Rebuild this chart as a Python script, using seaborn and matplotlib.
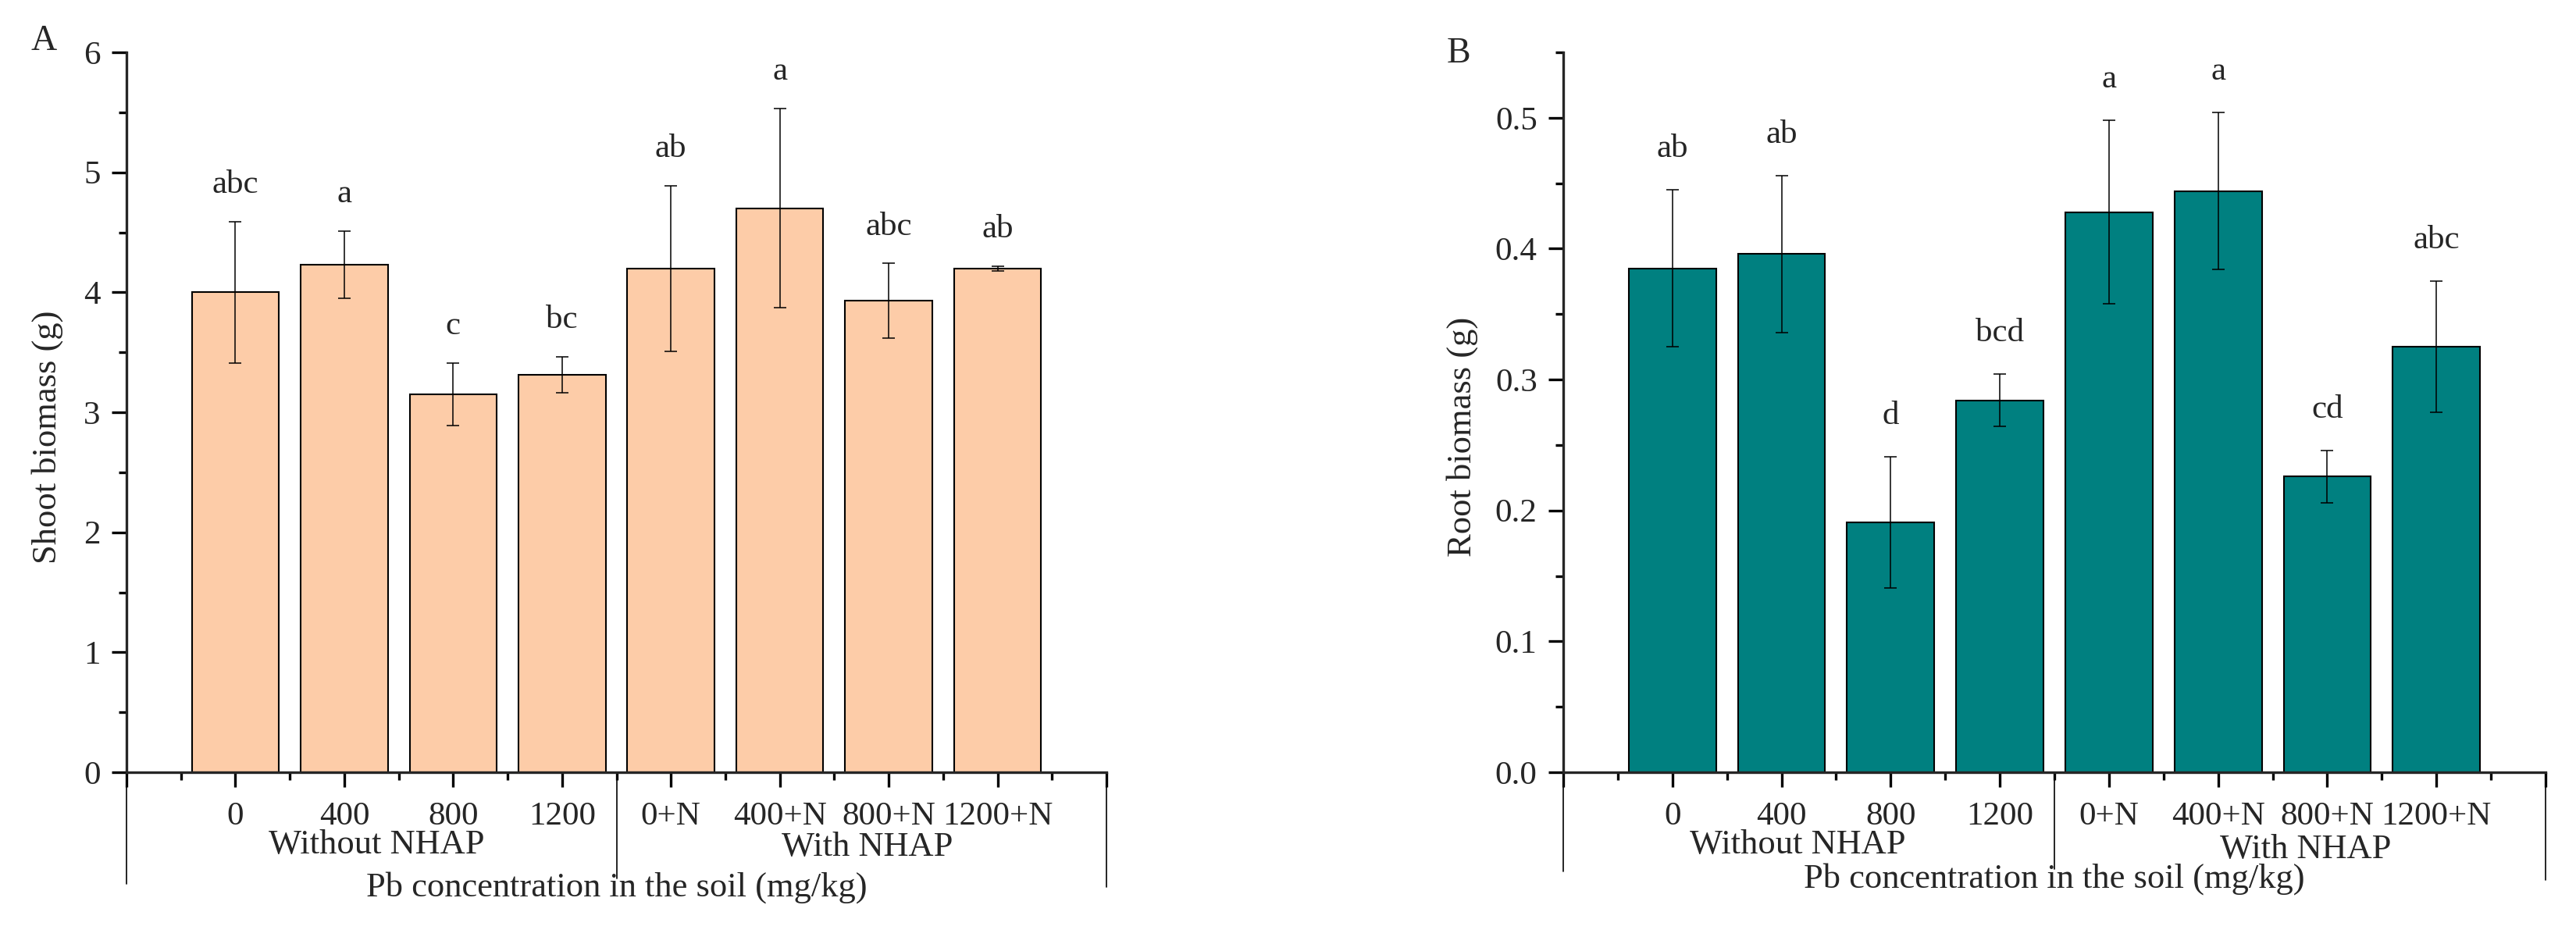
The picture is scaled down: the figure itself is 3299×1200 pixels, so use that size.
import numpy as np
import pandas as pd
import matplotlib
matplotlib.use("Agg")
import matplotlib.pyplot as plt
import seaborn as sns
from matplotlib.ticker import MultipleLocator, FormatStrFormatter

# =========================
# DATA
# =========================

treatments = ["0", "400", "800", "1200", "0+N", "400+N", "800+N", "1200+N"]
groups = ["Without NHAP", "With NHAP"]

shoot_mean = [4.00, 4.23, 3.15, 3.31, 4.20, 4.70, 3.93, 4.20]
shoot_err = [0.59, 0.28, 0.26, 0.15, 0.69, 0.83, 0.31, 0.02]
shoot_letters = ["abc", "a", "c", "bc", "ab", "a", "abc", "ab"]

root_mean = [0.385, 0.396, 0.191, 0.284, 0.428, 0.444, 0.226, 0.325]
root_err = [0.060, 0.060, 0.050, 0.020, 0.070, 0.060, 0.020, 0.050]
root_letters = ["ab", "ab", "d", "bcd", "a", "a", "cd", "abc"]

x_title = "Pb concentration in the soil (mg/kg)"

# =========================
# STYLE
# =========================

sns.set_style("ticks")
plt.rcParams['font.family'] = ['Liberation Serif', 'DejaVu Serif']
plt.rcParams['axes.linewidth'] = 2.4

fig = plt.figure(figsize=(32.99, 12), dpi=100)

ax_a = fig.add_axes([162 / 3299, 1 - 989 / 1200, (1417 - 162) / 3299, (989 - 67) / 1200])
ax_b = fig.add_axes([2002 / 3299, 1 - 989 / 1200, (3260 - 2002) / 3299, (989 - 67) / 1200])


def draw_panel(ax, means, errs, letters, color, ylabel, ymax, major, minor, fmt,
               offset, ylabel_x, group_x, group_y, sep_y, title_y):
    df = pd.DataFrame({"treatment": treatments, "value": means})

    sns.barplot(
        data=df,
        x="treatment",
        y="value",
        order=treatments,
        color=color,
        saturation=1,
        edgecolor="black",
        linewidth=1.5,
        width=0.8,
        errorbar=None,
        ax=ax
    )

    pos = np.arange(len(treatments))
    ax.errorbar(pos, means, yerr=errs, fmt="none", ecolor="black",
                elinewidth=1.1, capsize=6, capthick=1.1, zorder=5)

    # significance letters
    for i in range(len(treatments)):
        ax.text(pos[i], means[i] + errs[i] + offset, letters[i],
                ha="center", va="baseline", fontsize=31)

    ax.set_xlim(-1, 8)
    ax.set_ylim(0, ymax)

    sns.despine(ax=ax)

    ax.set_xticks(np.arange(-1, 9))
    ax.set_xticklabels([""] + treatments + [""])
    ax.set_xticks(np.arange(-0.5, 8, 1), minor=True)

    ax.yaxis.set_major_locator(MultipleLocator(major))
    ax.yaxis.set_minor_locator(MultipleLocator(minor))
    ax.yaxis.set_major_formatter(FormatStrFormatter(fmt))

    ax.tick_params(axis="both", which="major", direction="out",
                   length=14, width=2.4, labelsize=31, color="black")
    ax.tick_params(axis="both", which="minor", direction="out",
                   length=7, width=2.4, color="black")
    ax.tick_params(axis="x", which="major", pad=13)
    ax.tick_params(axis="y", which="major", pad=10)

    ax.set_xlabel("")
    ax.set_ylabel("")

    ax.text(ylabel_x, 0.466, ylabel, rotation=90, ha="center", va="center",
            fontsize=32, transform=ax.transAxes)

    # multi-level axis: group separators and labels
    for xs, ys in zip([-1, 3.5, 8], sep_y):
        ax.axvline(xs, ymin=ys, ymax=0, color="black", lw=1.2, clip_on=False)

    trans = ax.get_xaxis_transform()
    ax.text(group_x[0], group_y[0], groups[0], ha="center", va="baseline",
            fontsize=32, transform=trans)
    ax.text(group_x[1], group_y[1], groups[1], ha="center", va="baseline",
            fontsize=32, transform=trans)
    ax.text(3.5, title_y, x_title, ha="center", va="baseline",
            fontsize=32, transform=trans)


draw_panel(ax_a, shoot_mean, shoot_err, shoot_letters, "#FDCCA8",
           "Shoot biomass (g)", 6, 1, 0.5, "%d", 0.24, -0.0805,
           [1.3, 5.8], [-0.113, -0.116], [-0.155, -0.148, -0.159], -0.172)

draw_panel(ax_b, root_mean, root_err, root_letters, "#008080",
           "Root biomass (g)", 0.55, 0.1, 0.05, "%.1f", 0.025, -0.103,
           [1.15, 5.8], [-0.113, -0.119], [-0.138, -0.134, -0.150], -0.160)

fig.text(39 / 3299, 1 - 32 / 1200, "A", ha="left", va="top", fontsize=33)
fig.text(1853 / 3299, 1 - 47 / 1200, "B", ha="left", va="top", fontsize=33)

fig.savefig("out.png", dpi=100)
